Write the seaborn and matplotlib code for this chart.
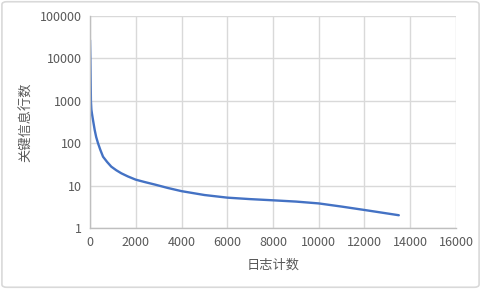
import matplotlib
matplotlib.use("Agg")
import matplotlib.pyplot as plt
import seaborn as sns
import pandas as pd
from matplotlib.patches import FancyBboxPatch

log_count = [0, 15, 40, 60, 90, 130, 205, 270, 350, 450, 570, 750, 930, 1150, 1370,
             1650, 2000, 2400, 2830, 3400, 4000, 5000, 6000, 7000, 8000, 9000, 10000,
             11000, 12000, 13000, 13500]
key_lines = [27000, 10000, 1000, 620, 480, 355, 205, 140, 100, 70, 48, 36, 28, 23, 19.5,
             16.5, 13.8, 12.1, 10.6, 8.8, 7.4, 6.0, 5.2, 4.8, 4.5, 4.2, 3.8,
             3.2, 2.66, 2.2, 2.0]
x_ticks = [0, 2000, 4000, 6000, 8000, 10000, 12000, 14000, 16000]
y_ticks = [1, 10, 100, 1000, 10000, 100000]
x_label = "日志计数"
y_label = "关键信息行数"

sns.set_theme(style="white")
plt.rcParams['font.family'] = ['Noto Sans CJK SC', 'DejaVu Sans']

df = pd.DataFrame({"x": log_count, "y": key_lines})

fig = plt.figure(figsize=(4.81, 2.89), dpi=100)
ax = fig.add_axes([90/481, 1-228/289, 366/481, 212/289])
sns.lineplot(data=df, x="x", y="y", ax=ax, color="#4472C4", linewidth=1.7)
ax.set_yscale("log")
ax.set_xlim(0, 16000)
ax.set_ylim(1, 100000)
ax.set_xticks(x_ticks)
ax.set_xticklabels([str(t) for t in x_ticks])
ax.set_yticks(y_ticks)
ax.set_yticklabels([str(t) for t in y_ticks])
ax.minorticks_off()
ax.grid(True, color="#d9d9d9", linewidth=1.0)
ax.tick_params(axis="both", length=0, labelsize=9, labelcolor="#595959", pad=6)
for s in ["top", "right"]:
    ax.spines[s].set_visible(False)
for s in ["left", "bottom"]:
    ax.spines[s].set_color("#bfbfbf")
    ax.spines[s].set_linewidth(1.0)
ax.set_xlabel(x_label, fontsize=9.5, color="#595959", labelpad=7)
ax.set_ylabel(y_label, fontsize=9.5, color="#595959", labelpad=5)

border = FancyBboxPatch((0.004, 0.006), 0.992, 0.988, boxstyle="round,pad=0,rounding_size=0.01",
                        transform=fig.transFigure, facecolor="none", edgecolor="#d9d9d9",
                        linewidth=1.2)
fig.patches.append(border)

fig.savefig("out.png", dpi=100)
